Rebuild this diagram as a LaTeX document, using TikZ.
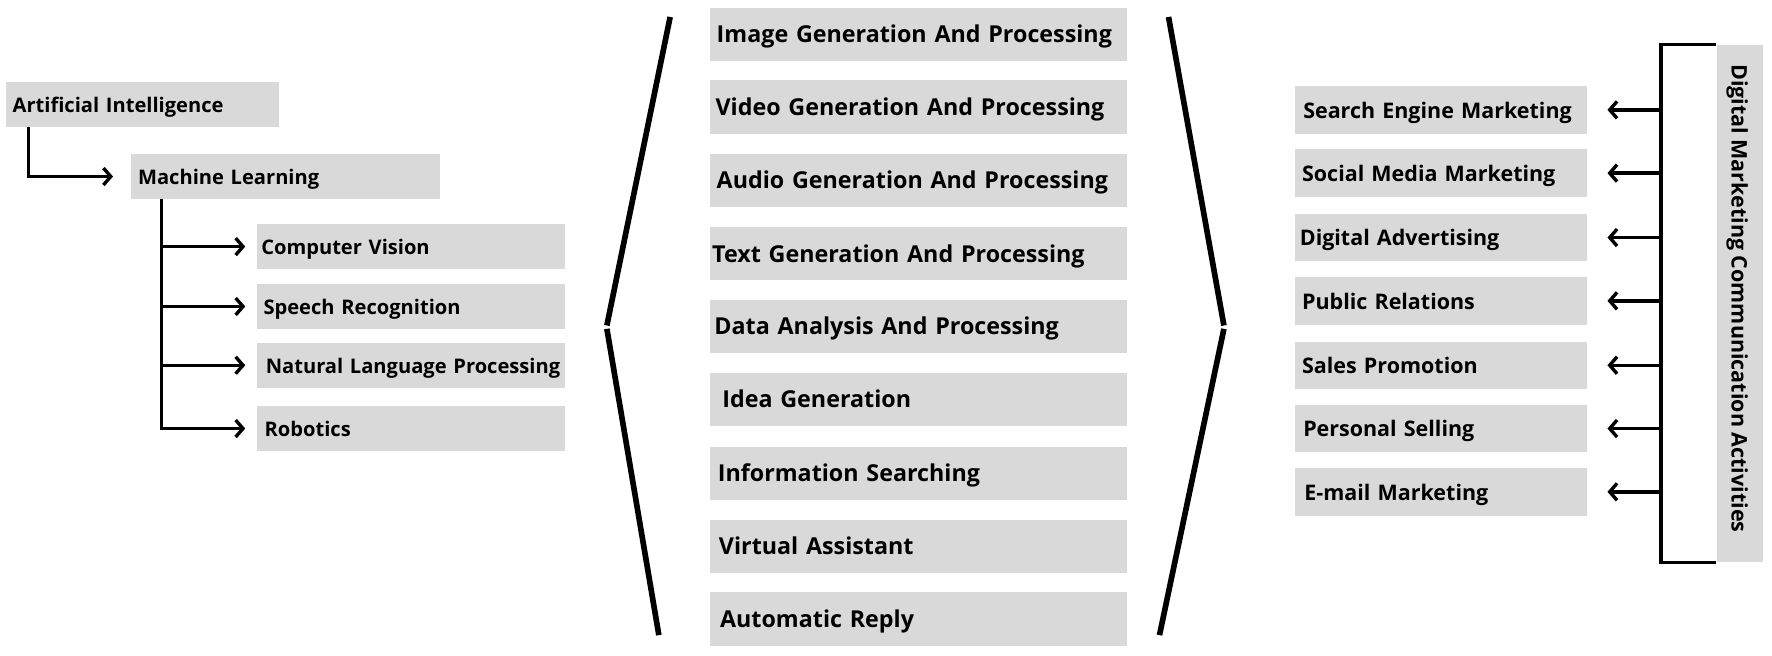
\documentclass[tikz,border=0pt]{standalone}
\usepackage{fontspec}
\setmainfont{Open Sans}
\usetikzlibrary{arrows.meta}
\definecolor{boxgray}{HTML}{D9D9D9}
\begin{document}
\begin{tikzpicture}[x=1pt,y=-1pt,
  box/.style={fill=boxgray, inner xsep=6pt, inner ysep=0pt, anchor=north west, align=left,
    text height=1.45em, text depth=0pt},
  lfont/.style={font=\bfseries\fontsize{17.8}{20}\selectfont},
  lbox/.style={box, lfont, text width=261pt, minimum height=40pt},
  cbox/.style={box, font=\bfseries\fontsize{20.6}{23}\selectfont, inner xsep=2pt, text width=365pt, minimum height=47pt},
  rbox/.style={box, font=\bfseries\fontsize{19}{21}\selectfont, text width=246pt, minimum height=42pt},
  conn/.style={line width=3pt},
  arr/.style={conn, -{Straight Barb[length=6.5pt,width=15pt]}},
  bracket/.style={line width=5pt}
]
\useasboundingbox (0,0) rectangle (1568,580);

% left section
\node[box, lfont, text width=230pt, minimum height=40pt] (ai) at (5,72) {Artificial Intelligence};
\node[lbox] (ml) at (116,136) {Machine Learning};
\node[lbox] (cv) at (227,198) {\hspace*{-2pt}Computer Vision};
\node[lbox] (sr) at (227,251) {Speech Recognition};
\node[lbox] (nlp) at (227,303) {\mbox{\hspace*{2pt}Natural Language Processing}};
\node[lbox] (rob) at (227,359) {\hspace*{1pt}Robotics};

\draw[arr] ([xshift=20pt]ai.south west) |- ([xshift=-16pt]ml.west);
\coordinate (trunk) at ([xshift=27pt]ml.south west);
\draw[arr] (trunk) |- ([xshift=-10pt]rob.west);
\draw[arr] (trunk |- cv.west) -- ([xshift=-10pt]cv.west);
\draw[arr] (trunk |- sr.west) -- ([xshift=-10pt]sr.west);
\draw[arr] (trunk |- nlp.west) -- ([xshift=-10pt]nlp.west);

% center section
\node[cbox] (c1) at (628,7) {\hspace*{4pt}Image Generation And Processing};
\node[cbox] (c2) at (628,71) {\hspace*{3pt}Video Generation And Processing};
\node[cbox] (c3) at (628,136) {\hspace*{4pt}Audio Generation And Processing};
\node[cbox] (c4) at (628,201) {Text Generation And Processing};
\node[cbox] (c5) at (628,265) {\hspace*{2pt}Data Analysis And Processing};
\node[cbox] (c6) at (628,330) {\hspace*{9pt}Idea Generation};
\node[cbox] (c7) at (628,395) {\hspace*{5pt}Information Searching};
\node[cbox] (c8) at (628,460) {\hspace*{6pt}Virtual Assistant};
\node[cbox] (c9) at (628,524) {\hspace*{7pt}Automatic Reply};

\coordinate (lb1) at (593,15);
\coordinate (lb2) at (537,288);
\coordinate (lb3) at (537,291);
\coordinate (lb4) at (583,562);
\draw[bracket] (lb1) -- (lb2);
\draw[bracket] (lb3) -- (lb4);
\coordinate (rb1) at (1034,15);
\coordinate (rb2) at (1083,288);
\coordinate (rb3) at (1083,291);
\coordinate (rb4) at (1026,562);
\draw[bracket] (rb1) -- (rb2);
\draw[bracket] (rb3) -- (rb4);

% right section
\node[rbox] (r1) at (1146,76) {\hspace*{1pt}Search Engine Marketing};
\node[rbox] (r2) at (1146,132) {Social Media Marketing};
\node[rbox] (r3) at (1146,189) {\hspace*{-2pt}Digital Advertising};
\node[rbox] (r4) at (1146,245) {Public Relations};
\node[rbox] (r5) at (1146,302) {Sales Promotion};
\node[rbox] (r6) at (1146,358) {\hspace*{1pt}Personal Selling};
\node[rbox] (r7) at (1146,414) {\hspace*{2pt}E-mail Marketing};

\node[fill=boxgray, inner sep=0pt, rotate=-90, minimum width=458pt, minimum height=41pt,
  font=\bfseries\fontsize{19}{21}\selectfont, text height=1.45em, text depth=0pt]
  (dmca) at (1539.5,268.5) {Digital Marketing Communication Activities\hspace*{9pt}};

\draw[conn] (dmca.south west) -- ++(-49,0) coordinate (spine) |- (dmca.south east);
\foreach \n in {r1,r2,r3,r4,r5,r6,r7}
  \draw[arr] (spine |- \n.east) -- ([xshift=18pt]\n.east);
\end{tikzpicture}
\end{document}
